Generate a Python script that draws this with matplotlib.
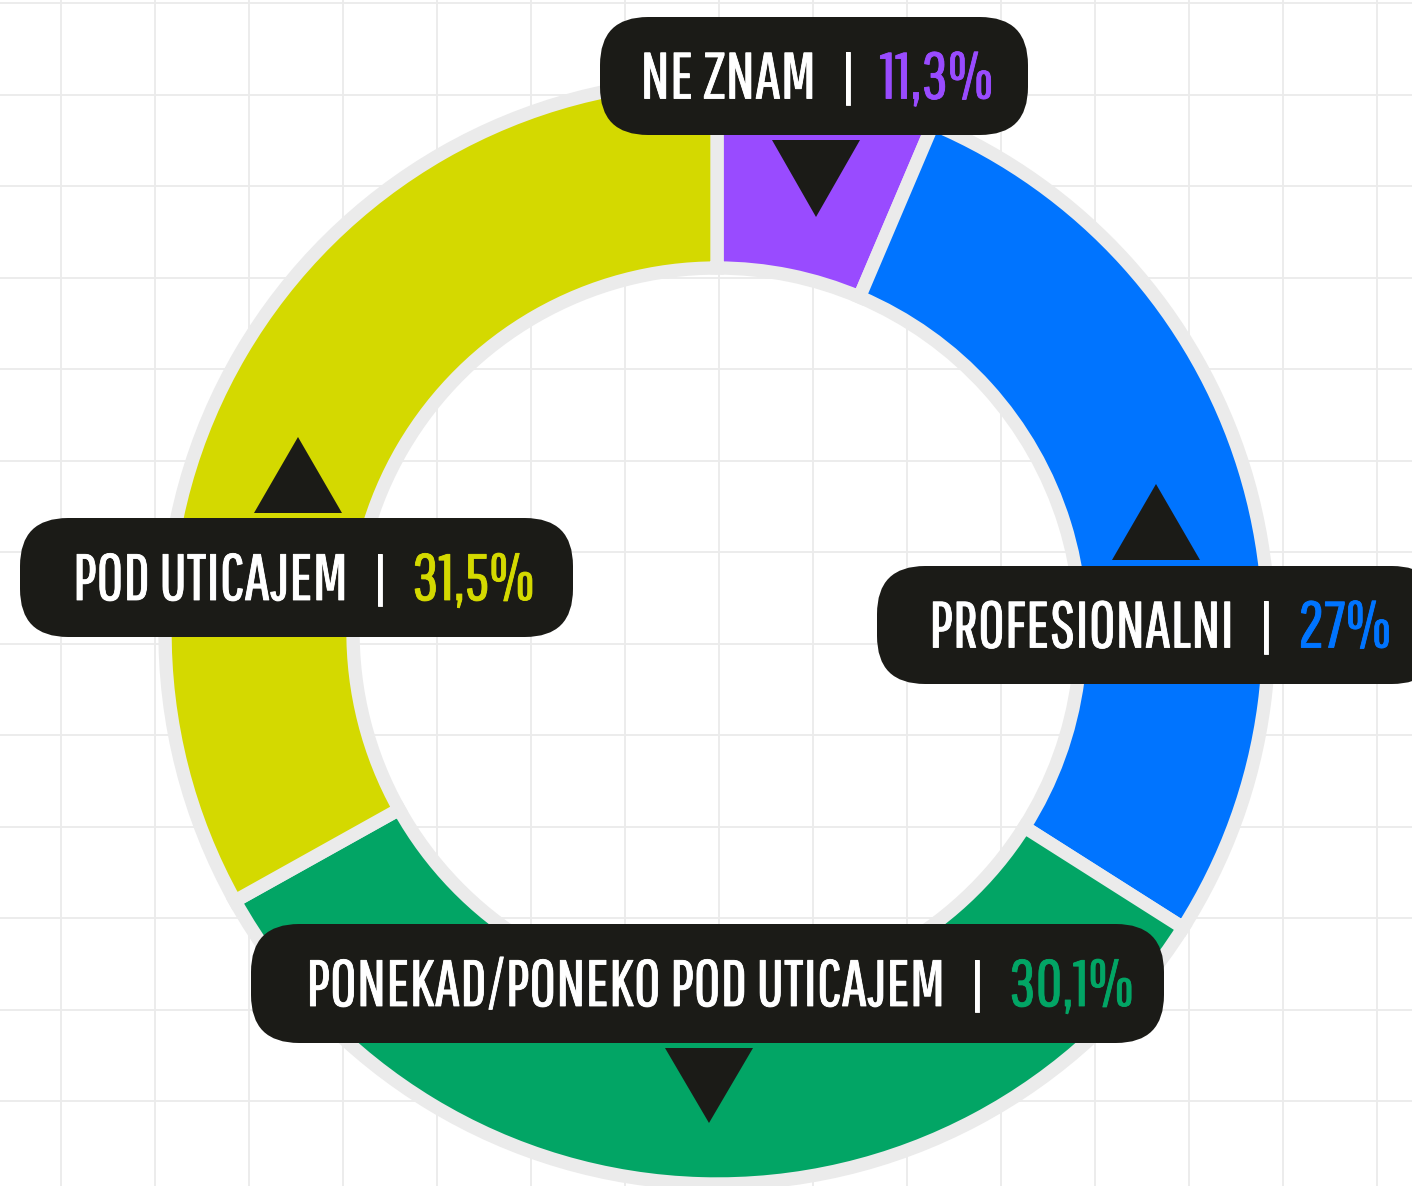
import matplotlib.pyplot as plt
import matplotlib.patheffects as pe
from matplotlib.patches import FancyBboxPatch, Polygon

W, H = 1412, 1186

categories = ["NE ZNAM", "PROFESIONALNI", "PONEKAD/PONEKO POD UTICAJEM", "POD UTICAJEM"]
pct_labels = ["11,3%", "27%", "30,1%", "31,5%"]
# arc sizes as drawn in the artwork (the original ring is not to scale)
arc_share = [6.4, 27.6, 32.9, 33.1]
colors = ["#994bff", "#0074ff", "#02a565", "#d4d900"]

# label layout in pixels (y down): box x0, y0, x1, y1, separator x, triangle apex x, apex y, base y
layout = [
    (600, 17, 1028, 135, 848, 816, 217, 140),
    (877, 566, 1440, 684, 1266, 1156, 484, 560),
    (251, 924, 1164, 1043, 977, 709, 1123, 1048),
    (20, 518, 573, 637, 380, 298, 437, 513),
]

GRAY = "#ebebeb"
BOX = "#1b1b17"
FONT = ["Pathway Gothic One", "Sofia Sans Extra Condensed", "Barlow Condensed", "DejaVu Sans"]
FS = 47

fig = plt.figure(figsize=(W / 100, H / 100), dpi=100)
ax = fig.add_axes([0, 0, 1, 1])

# background grid
for x in range(61, W, 94):
    ax.axvline(x, color=GRAY, lw=1.3, zorder=0)
y = 3.0
while y < H:
    ax.axhline(H - y, color=GRAY, lw=1.3, zorder=0)
    y += 91.5

# donut ring
cx, cy = 717, H - 632
ax.pie(
    arc_share,
    colors=colors,
    startangle=90,
    counterclock=False,
    radius=552,
    center=(cx, cy),
    wedgeprops=dict(width=188, edgecolor=GRAY, linewidth=9.6),
)
for w in ax.patches:
    w.set_zorder(2)

ax.set_xlim(0, W)
ax.set_ylim(0, H)
ax.set_aspect("auto")
ax.axis("off")

# labels
cap = 45
for name, pct, col, (x0, y0, x1, y1, sx, tx, ty, tb) in zip(
    categories, pct_labels, colors, layout
):
    box = FancyBboxPatch(
        (x0, H - y1), x1 - x0, y1 - y0,
        boxstyle="round,pad=0,rounding_size=48",
        fc=BOX, ec="none", zorder=5,
    )
    ax.add_patch(box)
    tri = Polygon(
        [(tx - 44, H - tb), (tx + 44, H - tb), (tx, H - ty)],
        closed=True, fc=BOX, ec="none", zorder=4,
    )
    ax.add_patch(tri)
    base = H - ((y0 + y1) / 2 + cap / 2)
    for s, c, xx, ha, dy in [
        (name, "white", sx - 32, "right", 0),
        ("|", "white", sx, "center", -3),
        (pct, col, sx + 32, "left", 0),
    ]:
        t = ax.text(xx, base + dy, s, color=c, fontsize=FS, family=FONT,
                    ha=ha, va="baseline", zorder=6)
        t.set_path_effects([pe.withStroke(linewidth=0.6, foreground=c)])

fig.savefig("out.png", dpi=100)
